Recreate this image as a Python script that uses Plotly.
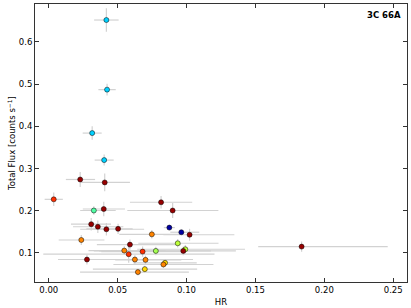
import plotly.graph_objects as go

# Hardness ratio (HR) and total flux [counts/s] per observation
hr = [0.0418, 0.0423, 0.0315, 0.0402, 0.0228, 0.0406, 0.0036, 0.0815, 0.0899, 0.0327,
      0.0399, 0.0308, 0.0356, 0.0418, 0.0503, 0.0875, 0.0962, 0.1022, 0.0748, 0.0236,
      0.0936, 0.0589, 0.0991, 0.0976, 0.1835, 0.0548, 0.0777, 0.0681, 0.0580, 0.0277,
      0.0625, 0.0702, 0.0844, 0.0832, 0.0697, 0.0647]
flux = [0.652, 0.487, 0.384, 0.320, 0.274, 0.267, 0.227, 0.220, 0.2005, 0.2005,
        0.204, 0.168, 0.162, 0.156, 0.157, 0.160, 0.149, 0.143, 0.144, 0.1306,
        0.1228, 0.1196, 0.1086, 0.1047, 0.1149, 0.1055, 0.1047, 0.1031, 0.0969, 0.0843,
        0.0843, 0.0835, 0.0765, 0.0725, 0.0615, 0.0545]
hr_err_lo = [0.0089, 0.0063, 0.0069, 0.0069, 0.0104, 0.0171, 0.0066, 0.0226, 0.0329, 0.0099,
             0.0152, 0.0147, 0.0180, 0.0190, 0.0230, 0.0040, 0.0080, 0.0190, 0.0236, 0.0164,
             0.0286, 0.0240, 0.0349, 0.0611, 0.0315, 0.0260, 0.0450, 0.0300, 0.0620, 0.0210,
             0.0320, 0.0220, 0.0230, 0.0363, 0.0377, 0.0420]
hr_err_hi = [0.0089, 0.0063, 0.0069, 0.0069, 0.0108, 0.0183, 0.0066, 0.0226, 0.0332, 0.0159,
             0.0154, 0.0144, 0.0185, 0.0274, 0.0106, 0.0040, 0.0130, 0.0325, 0.0200, 0.0168,
             0.0296, 0.0370, 0.0433, 0.0382, 0.0625, 0.0300, 0.0400, 0.0300, 0.0623, 0.0770,
             0.0350, 0.0260, 0.0230, 0.0363, 0.0380, 0.0370]
flux_err = [0.028, 0.014, 0.016, 0.013, 0.018, 0.021, 0.016, 0.015, 0.018, 0.010,
            0.017, 0.015, 0.015, 0.015, 0.012, 0.005, 0.005, 0.014, 0.010, 0.012,
            0.010, 0.012, 0.010, 0.010, 0.012, 0.010, 0.010, 0.012, 0.020, 0.012,
            0.010, 0.010, 0.008, 0.008, 0.008, 0.008]
# normalised observation epoch, mapped through the jet colour map
epoch = [0.33, 0.33, 0.33, 0.33, 0.98, 0.98, 0.86, 0.98, 0.98, 0.45,
         0.98, 0.98, 0.98, 0.98, 0.98, 0.03, 0.03, 0.98, 0.77, 0.77,
         0.58, 0.98, 0.58, 0.98, 0.98, 0.77, 0.55, 0.86, 0.86, 0.98,
         0.77, 0.77, 0.68, 0.77, 0.68, 0.77]

x_ticks = [0.00, 0.05, 0.10, 0.15, 0.20, 0.25]
y_ticks = [0.1, 0.2, 0.3, 0.4, 0.5, 0.6]


def _interp(v, pts):
    for (x0, y0), (x1, y1) in zip(pts[:-1], pts[1:]):
        if x0 <= v <= x1:
            return y0 + (y1 - y0) * (v - x0) / (x1 - x0)
    return pts[-1][1]


def jet(v):
    r = _interp(v, [(0, 0), (0.35, 0), (0.66, 1), (0.89, 1), (1, 0.5)])
    g = _interp(v, [(0, 0), (0.125, 0), (0.375, 1), (0.64, 1), (0.91, 0), (1, 0)])
    b = _interp(v, [(0, 0.5), (0.11, 1), (0.34, 1), (0.65, 0), (1, 0)])
    return "rgb(%d,%d,%d)" % (round(r * 255), round(g * 255), round(b * 255))


colors = [jet(v) for v in epoch]
FONT = "DejaVu Sans"

fig = go.Figure()
fig.add_trace(go.Scatter(
    x=hr, y=flux, mode="markers",
    marker=dict(color=colors, size=5, line=dict(color="black", width=0.5)),
    error_x=dict(type="data", symmetric=False, array=hr_err_hi, arrayminus=hr_err_lo,
                 color="#d2d2d2", thickness=1.2, width=0),
    error_y=dict(type="data", array=flux_err, color="#d2d2d2", thickness=1.2, width=0),
    showlegend=False,
))

axis_common = dict(
    showline=True, linecolor="#333333", linewidth=1, mirror="ticks",
    ticks="inside", ticklen=4, tickcolor="#333333", tickwidth=1,
    showgrid=False, zeroline=False,
    tickfont=dict(family=FONT, size=8.5, color="black"),
)

fig.update_layout(
    width=411, height=308, autosize=False,
    margin=dict(l=35, r=4, t=3, b=25),
    plot_bgcolor="white", paper_bgcolor="white",
    font=dict(family=FONT, size=8.5, color="black"),
    xaxis=dict(range=[-0.01, 0.26], tickvals=x_ticks,
               ticktext=["%.2f" % t for t in x_ticks],
               title=dict(text="HR", font=dict(family=FONT, size=8.5), standoff=4),
               **axis_common),
    yaxis=dict(range=[0.031, 0.69], tickvals=y_ticks,
               ticktext=["%.1f" % t for t in y_ticks],
               title=dict(text="Total Flux [counts s<sup>\u22121</sup>]",
                          font=dict(family=FONT, size=8.5), standoff=1),
               **axis_common),
    annotations=[dict(text="<b>3C 66A</b>", xref="paper", yref="paper",
                      x=0.99, y=0.985, xanchor="right", yanchor="top",
                      showarrow=False, font=dict(family=FONT, size=8.5, color="black"))],
)

fig.write_html("out.html",
               config={"displayModeBar": False},
               post_script="document.body.style.margin='0px';"
                           "document.body.style.overflow='hidden';")
